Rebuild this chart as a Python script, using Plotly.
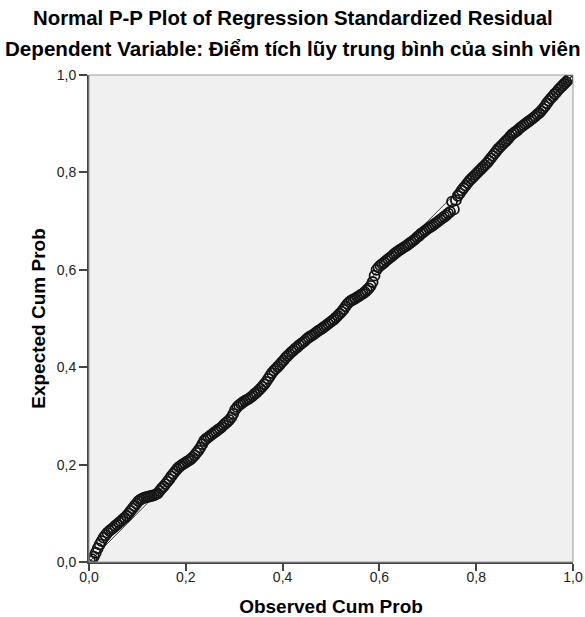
import plotly.graph_objects as go

observed_cum_prob = [
    0.002, 0.006, 0.010, 0.014, 0.018, 0.022, 0.026, 0.030, 0.034, 0.038,
    0.042, 0.046, 0.050, 0.054, 0.058, 0.062, 0.066, 0.070, 0.074, 0.078,
    0.082, 0.086, 0.090, 0.094, 0.098, 0.102, 0.106, 0.110, 0.114, 0.118,
    0.122, 0.126, 0.130, 0.134, 0.138, 0.142, 0.146, 0.150, 0.154, 0.158,
    0.162, 0.166, 0.170, 0.174, 0.178, 0.182, 0.186, 0.190, 0.194, 0.198,
    0.202, 0.206, 0.210, 0.214, 0.218, 0.222, 0.226, 0.230, 0.234, 0.238,
    0.242, 0.246, 0.250, 0.254, 0.258, 0.262, 0.266, 0.270, 0.274, 0.278,
    0.282, 0.286, 0.290, 0.294, 0.298, 0.302, 0.306, 0.310, 0.314, 0.318,
    0.322, 0.326, 0.330, 0.334, 0.338, 0.342, 0.346, 0.350, 0.354, 0.358,
    0.362, 0.366, 0.370, 0.374, 0.378, 0.382, 0.386, 0.390, 0.394, 0.398,
    0.402, 0.406, 0.410, 0.414, 0.418, 0.422, 0.426, 0.430, 0.434, 0.438,
    0.442, 0.446, 0.450, 0.454, 0.458, 0.462, 0.466, 0.470, 0.474, 0.478,
    0.482, 0.486, 0.490, 0.494, 0.498, 0.502, 0.506, 0.510, 0.514, 0.518,
    0.522, 0.526, 0.530, 0.534, 0.538, 0.542, 0.546, 0.550, 0.554, 0.558,
    0.562, 0.566, 0.570, 0.574, 0.578, 0.582, 0.586, 0.590, 0.594, 0.598,
    0.602, 0.606, 0.610, 0.614, 0.618, 0.622, 0.626, 0.630, 0.634, 0.638,
    0.642, 0.646, 0.650, 0.654, 0.658, 0.662, 0.666, 0.670, 0.674, 0.678,
    0.682, 0.686, 0.690, 0.694, 0.698, 0.702, 0.706, 0.710, 0.714, 0.718,
    0.722, 0.726, 0.730, 0.734, 0.738, 0.742, 0.746, 0.750, 0.754, 0.758,
    0.762, 0.766, 0.770, 0.774, 0.778, 0.782, 0.786, 0.790, 0.794, 0.798,
    0.802, 0.806, 0.810, 0.814, 0.818, 0.822, 0.826, 0.830, 0.834, 0.838,
    0.842, 0.846, 0.850, 0.854, 0.858, 0.862, 0.866, 0.870, 0.874, 0.878,
    0.882, 0.886, 0.890, 0.894, 0.898, 0.902, 0.906, 0.910, 0.914, 0.918,
    0.922, 0.926, 0.930, 0.934, 0.938, 0.942, 0.946, 0.950, 0.954, 0.958,
    0.962, 0.966, 0.970, 0.974, 0.978, 0.982, 0.986, 0.990, 0.994, 0.998,
]

expected_cum_prob = [
    0.002, 0.006, 0.011, 0.019, 0.028, 0.036, 0.043, 0.050, 0.055, 0.060,
    0.064, 0.067, 0.070, 0.074, 0.077, 0.081, 0.084, 0.088, 0.091, 0.095,
    0.100, 0.105, 0.110, 0.115, 0.120, 0.125, 0.128, 0.130, 0.132, 0.133,
    0.134, 0.135, 0.136, 0.137, 0.139, 0.141, 0.146, 0.151, 0.155, 0.160,
    0.165, 0.170, 0.176, 0.181, 0.186, 0.191, 0.195, 0.198, 0.201, 0.203,
    0.206, 0.208, 0.211, 0.215, 0.219, 0.224, 0.229, 0.235, 0.242, 0.249,
    0.253, 0.256, 0.259, 0.262, 0.265, 0.268, 0.271, 0.274, 0.277, 0.281,
    0.285, 0.288, 0.292, 0.297, 0.304, 0.313, 0.318, 0.322, 0.325, 0.328,
    0.331, 0.333, 0.335, 0.338, 0.341, 0.345, 0.348, 0.352, 0.356, 0.360,
    0.365, 0.370, 0.376, 0.382, 0.388, 0.393, 0.397, 0.401, 0.405, 0.410,
    0.414, 0.419, 0.423, 0.427, 0.431, 0.434, 0.438, 0.441, 0.445, 0.448,
    0.451, 0.454, 0.458, 0.461, 0.464, 0.466, 0.469, 0.472, 0.475, 0.477,
    0.480, 0.483, 0.486, 0.489, 0.492, 0.495, 0.498, 0.502, 0.506, 0.510,
    0.514, 0.519, 0.525, 0.530, 0.534, 0.537, 0.539, 0.541, 0.544, 0.546,
    0.549, 0.551, 0.554, 0.558, 0.562, 0.567, 0.575, 0.588, 0.600, 0.605,
    0.609, 0.612, 0.615, 0.619, 0.622, 0.625, 0.628, 0.632, 0.635, 0.638,
    0.641, 0.643, 0.646, 0.648, 0.651, 0.654, 0.657, 0.660, 0.663, 0.667,
    0.670, 0.674, 0.677, 0.680, 0.683, 0.686, 0.688, 0.691, 0.694, 0.697,
    0.700, 0.703, 0.706, 0.709, 0.712, 0.716, 0.719, 0.740, 0.724, 0.743,
    0.752, 0.757, 0.763, 0.768, 0.773, 0.778, 0.783, 0.787, 0.791, 0.795,
    0.799, 0.803, 0.807, 0.811, 0.815, 0.819, 0.824, 0.829, 0.834, 0.839,
    0.844, 0.849, 0.853, 0.857, 0.861, 0.865, 0.869, 0.874, 0.878, 0.881,
    0.884, 0.887, 0.891, 0.894, 0.897, 0.900, 0.903, 0.906, 0.909, 0.912,
    0.915, 0.919, 0.922, 0.926, 0.931, 0.936, 0.942, 0.947, 0.952, 0.956,
    0.961, 0.965, 0.970, 0.974, 0.978, 0.982, 0.986, 0.990, 0.994, 0.998,
]

reference_line = [0.0, 1.0]
tick_values = [0.0, 0.2, 0.4, 0.6, 0.8, 1.0]

FONT = "Liberation Sans, Arial, sans-serif"

fig = go.Figure()

fig.add_trace(go.Scatter(
    x=reference_line, y=reference_line, mode="lines",
    line=dict(color="#3a3a3a", width=1), hoverinfo="skip", showlegend=False,
))

fig.add_trace(go.Scatter(
    x=observed_cum_prob, y=expected_cum_prob, mode="markers",
    marker=dict(symbol="circle-open", size=10, color="#151515",
                line=dict(width=1.8, color="#151515")),
    showlegend=False,
))

fig.update_layout(
    width=585, height=617,
    margin=dict(l=89, r=12, t=75, b=55),
    paper_bgcolor="white",
    plot_bgcolor="#f0f0f0",
    separators=", ",
    font=dict(family=FONT, color="#000000"),
    showlegend=False,
    shapes=[dict(type="rect", xref="paper", yref="paper", x0=0, y0=0, x1=1, y1=1,
                 line=dict(color="#9a9a9a", width=1), layer="above")],
    annotations=[
        dict(text="<b>Normal P-P Plot of Regression Standardized Residual</b>",
             xref="paper", yref="paper", x=0.5, y=1, xshift=-38.5, yshift=57,
             xanchor="center", yanchor="middle", showarrow=False,
             font=dict(size=20.4, family=FONT)),
        dict(text="<b>Dependent Variable: Điểm tích lũy trung bình của sinh viên</b>",
             xref="paper", yref="paper", x=0.5, y=1, xshift=-38.5, yshift=27,
             xanchor="center", yanchor="middle", showarrow=False,
             font=dict(size=20.6, family=FONT)),
    ],
)

fig.update_xaxes(
    range=[0, 1], tickvals=tick_values, tickformat=".1f",
    ticks="outside", ticklen=7, tickwidth=1.5, tickcolor="#444444",
    ticklabelstandoff=-6, automargin=False,
    showline=True, linecolor="#444444", linewidth=2,
    showgrid=False, zeroline=False,
    tickfont=dict(size=14, family=FONT, color="#222222"),
    title=dict(text="<b>Observed Cum Prob</b>", font=dict(size=19, family=FONT), standoff=30),
)
fig.update_yaxes(
    range=[0, 1], tickvals=tick_values, tickformat=".1f",
    ticks="outside", ticklen=8, tickwidth=1.5, tickcolor="#444444",
    automargin=False,
    showline=True, linecolor="#444444", linewidth=2,
    showgrid=False, zeroline=False,
    tickfont=dict(size=14, family=FONT, color="#222222"),
    title=dict(text="<b>Expected Cum Prob</b>", font=dict(size=19, family=FONT), standoff=6),
)

fig.write_html("out.html")
